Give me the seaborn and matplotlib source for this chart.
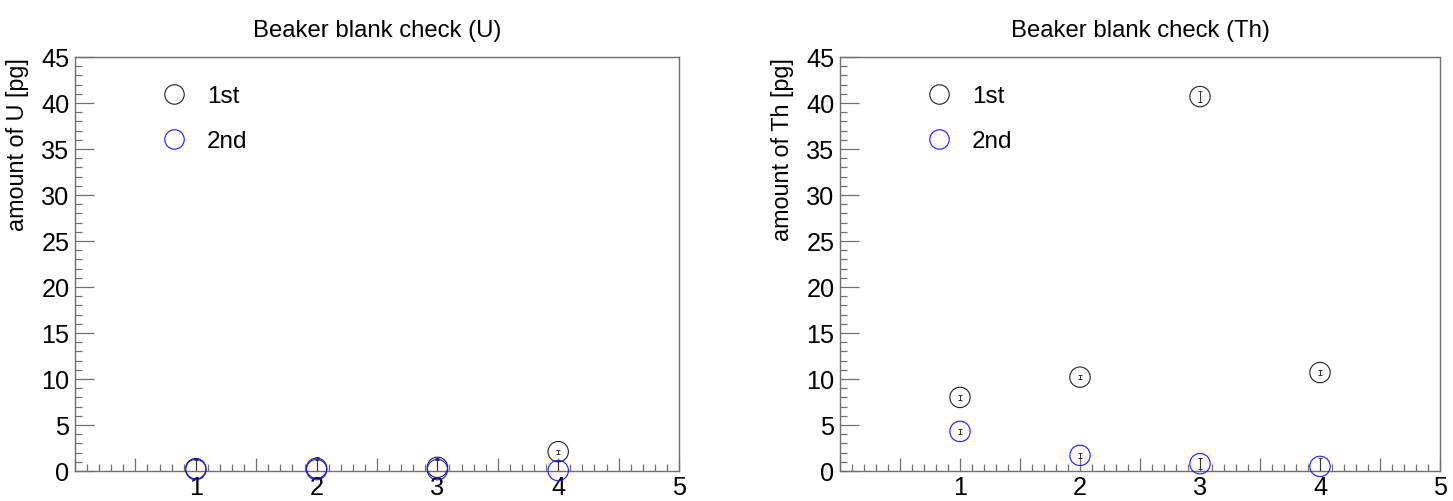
import numpy as np
import pandas as pd
import matplotlib
matplotlib.use("Agg")
import matplotlib.pyplot as plt
from matplotlib.lines import Line2D
from matplotlib.ticker import MultipleLocator, FuncFormatter
import seaborn as sns

# Beaker number
beakers = [1, 2, 3, 4]
runs = ["1st", "2nd"]

# Uranium blank amounts [pg]
u_first = [0.25, 0.3, 0.4, 2.1]
u_first_err = [1.2, 1.2, 1.0, 0.2]
u_second = [0.15, 0.15, 0.15, 0.05]
u_second_err = [1.0, 1.0, 1.0, 1.0]

# Thorium blank amounts [pg]
th_first = [8.0, 10.2, 40.7, 10.7]
th_first_err = [0.25, 0.25, 0.55, 0.25]
th_second = [4.3, 1.7, 0.8, 0.5]
th_second_err = [0.25, 0.3, 0.6, 0.95]

titles = ["Beaker blank check (U)", "Beaker blank check (Th)"]
ylabels = ["amount of U [pg]", "amount of Th [pg]"]

sns.set_theme(style="white")
plt.rcParams["font.family"] = ["Liberation Sans", "DejaVu Sans"]
plt.rcParams["text.color"] = "black"
plt.rcParams["axes.labelcolor"] = "black"

W, H = 1453, 502
fig = plt.figure(figsize=(W / 100, H / 100), dpi=100)

frame_col = "#707070"
colors = {"1st": "#222222", "2nd": "#1a1aff"}


def panel(rect, first, first_err, second, second_err, title, ylabel, leg_xy):
    ax = fig.add_axes(rect)
    df = pd.DataFrame({
        "beaker": beakers * 2,
        "amount": list(first) + list(second),
        "err": list(first_err) + list(second_err),
        "run": ["1st"] * 4 + ["2nd"] * 4,
    })
    for run in runs:
        sub = df[df["run"] == run]
        ax.errorbar(sub["beaker"], sub["amount"], yerr=sub["err"], fmt="none",
                    ecolor="#333333", elinewidth=0.7, capsize=1.3, capthick=0.7,
                    zorder=2)
    sns.scatterplot(data=df, x="beaker", y="amount", hue="run",
                    palette=colors, s=215, marker="o", linewidth=0.8,
                    legend=False, ax=ax, zorder=3)
    for coll in ax.collections:
        fc = coll.get_facecolors()
        if len(fc) == len(df):
            coll.set_edgecolors(fc)
            coll.set_facecolors("none")
            coll.set_clip_on(False)

    ax.set_xlim(0, 5)
    ax.set_ylim(0, 45)
    ax.set_xlabel("")
    ax.set_ylabel(ylabel, fontsize=16.8, loc="top", labelpad=9, color="black")
    ax.set_title(title, fontsize=17.2, pad=15, color="black")

    ax.xaxis.set_major_locator(MultipleLocator(0.5))
    ax.xaxis.set_minor_locator(MultipleLocator(0.1))
    ax.xaxis.set_major_formatter(FuncFormatter(
        lambda v, p: f"{int(round(v))}" if abs(v - round(v)) < 1e-6 and round(v) > 0 else ""))
    ax.yaxis.set_major_locator(MultipleLocator(5))
    ax.yaxis.set_minor_locator(MultipleLocator(1))

    ax.tick_params(axis="both", which="both", direction="in", colors=frame_col,
                   labelcolor="black", labelsize=18.2, width=0.9,
                   bottom=True, left=True, top=False, right=False)
    ax.tick_params(axis="x", which="major", length=9.5, pad=3)
    ax.tick_params(axis="x", which="minor", length=5)
    ax.tick_params(axis="y", which="major", length=13.5, pad=4)
    ax.tick_params(axis="y", which="minor", length=5)
    for sp in ax.spines.values():
        sp.set_color(frame_col)
        sp.set_linewidth(1.0)

    handles = [Line2D([], [], linestyle="none", marker="o", markersize=14,
                      markerfacecolor="none", markeredgecolor=colors[r],
                      markeredgewidth=0.8, label=r) for r in runs]
    ax.legend(handles=handles, loc="upper left", bbox_to_anchor=leg_xy,
              frameon=False, fontsize=17.5, handletextpad=0.85,
              labelspacing=0.95, handlelength=1.0)
    return ax


panel([75 / W, 30 / H, 604 / W, 414 / H], u_first, u_first_err,
      u_second, u_second_err, titles[0], ylabels[0], (0.108, 0.985))
panel([840 / W, 30 / H, 600 / W, 414 / H], th_first, th_first_err,
      th_second, th_second_err, titles[1], ylabels[1], (0.108, 0.985))

fig.savefig("out.png", dpi=100)
